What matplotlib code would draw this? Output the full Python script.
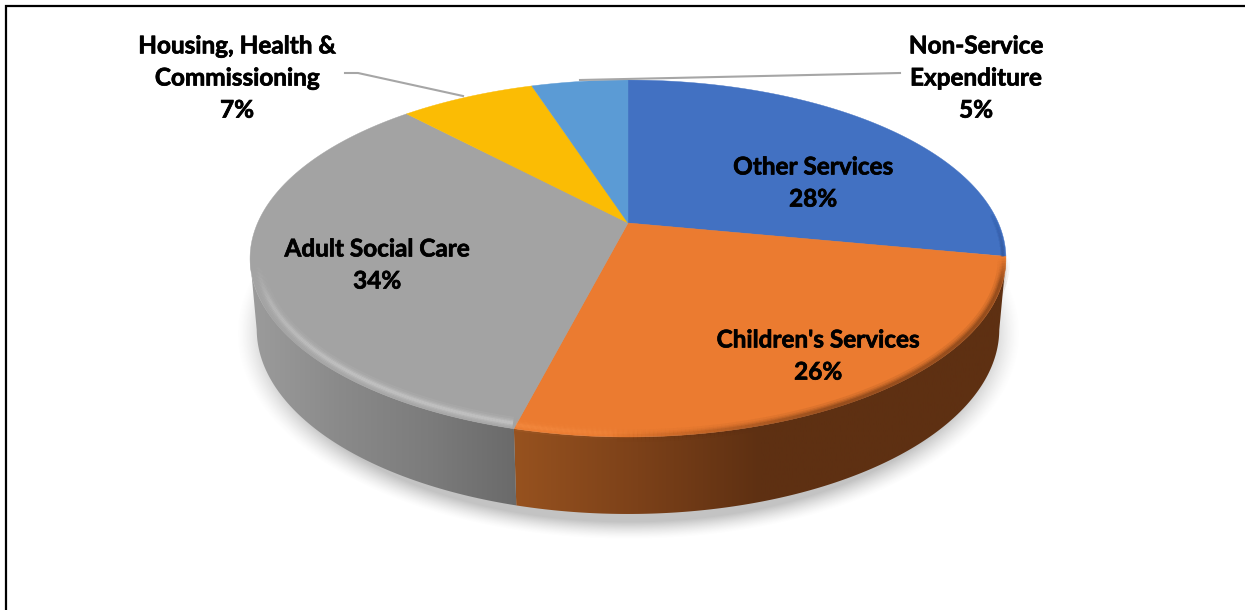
import numpy as np
import matplotlib
matplotlib.use("Agg")
from matplotlib import pyplot as plt
from matplotlib import patheffects
from matplotlib.collections import LineCollection
from matplotlib.colors import LinearSegmentedColormap, to_rgba
from matplotlib.patches import Polygon

categories = ["Other Services", "Children's Services", "Adult Social Care",
              "Housing, Health &\nCommissioning", "Non-Service\nExpenditure"]
values = [28, 26, 34, 7, 5]
colors = ["#4271c2", "#eb7b30", "#a3a3a3", "#fbbc04", "#5b9bd5"]
label_centers = [(813, 183), (818, 356), (377, 265), (237, 78), (976, 78)]

CX, CY = 628, 223
RADIUS = 370.4
TILT_Y = 171.4
PERSP = 0.199
THICK = 70


def project(deg, scale=1.0, ys=1.0, drop=0):
    # tilted disc, near edge bigger than far edge
    t = np.radians(deg)
    d = 1 + PERSP * np.sin(t) * scale
    x = CX + scale * RADIUS * np.cos(t) / d
    y = CY + drop - ys * scale * TILT_Y * np.sin(t) / d
    return x, y


def side_face(ax, t0, t1, stops):
    # side wall between two angles, shaded left to right
    t = np.linspace(t0, t1, 150)
    xt, yt = project(t)
    xb, yb = project(t[::-1], scale=0.983, ys=1.055, drop=THICK)
    pts = np.column_stack([np.r_[xt, xb], np.r_[yt, yb]])
    poly = Polygon(pts, fc="none", ec="none", zorder=2)
    ax.add_patch(poly)
    cmap = LinearSegmentedColormap.from_list("side", stops)
    grad = np.linspace(0, 1, 256)[None, :]
    im = ax.imshow(grad, cmap=cmap, extent=(pts[:, 0].min(), pts[:, 0].max(), 610, 0),
                   aspect="auto", zorder=2)
    im.set_clip_path(poly)


def rim_glow(ax, t0, t1, color, scale, fade, bands):
    # soft band along the edge of the top face
    t = np.linspace(t0, t1, 160)
    x, y = project(t, scale=scale)
    pts = np.column_stack([x, y])
    segs = np.stack([pts[:-1], pts[1:]], axis=1)
    w = fade(t[:-1])
    for lw, a in bands:
        rgba = np.tile(to_rgba(color), (len(segs), 1))
        rgba[:, 3] = np.clip(w * a, 0, 1)
        ax.add_collection(LineCollection(segs, colors=rgba, linewidths=lw,
                                         capstyle="butt", zorder=4))


fig = plt.figure(figsize=(12.45, 6.10), dpi=100)
ax = fig.add_axes([0, 0, 1, 1])
ax.set_xlim(0, 1245)
ax.set_ylim(610, 0)
ax.axis("off")

# soft shadow under the disc
yy, xx = np.mgrid[0:610, 0:1245]
f = np.sqrt(((xx - 628) / 392.0) ** 2 + ((yy - 333) / 206.0) ** 2)
shadow = np.zeros((610, 1245, 4))
shadow[..., :3] = 0.45
shadow[..., 3] = np.clip((1 - f) / 0.085, 0, 1) ** 1.4 * 0.42
ax.imshow(shadow, extent=(0, 1245, 610, 0), aspect="auto", zorder=1)

# slice boundaries, clockwise from twelve o'clock
edges = 90 - np.cumsum([0] + values) * 3.6
right = -np.degrees(np.arcsin(PERSP))
left = -180 - right

side_face(ax, right, edges[2], ["#97521f", "#7c4119", "#5e3012", "#5e3012", "#5e3012"])
side_face(ax, edges[2], left, ["#9c9c9c", "#8a8a8a", "#7c7c7c", "#6a6a6a"])

for i, c in enumerate(colors):
    t = np.linspace(edges[i], edges[i + 1], 120)
    x, y = project(t)
    ax.add_patch(Polygon(np.column_stack([np.r_[CX, x], np.r_[CY, y]]),
                         fc=c, ec=c, lw=0.3, zorder=3))

# bevel: light on the grey, darkening on the orange
soft = [(9, 0.07), (6, 0.1), (4, 0.14), (2.2, 0.2)]
rim_glow(ax, edges[2] - 0.5, left, "#e8e8e8", 0.98,
         lambda t: np.clip((t - left) / 14, 0, 1) * np.clip(-np.sin(np.radians(t)) * 1.2 + 0.1, 0.3, 1),
         soft)
rim_glow(ax, edges[2], edges[2] + 25, "#ff9a50", 0.985,
         lambda t: np.clip((edges[2] + 25 - t) / 25, 0, 1), soft)
rim_glow(ax, edges[2] + 12, right, "#5e3012", 0.995,
         lambda t: np.clip((t - edges[2] - 12) / 30, 0, 1) * np.clip((right - t) / 8, 0, 1) * 1.5,
         soft)
rim_glow(ax, right + 0.5, edges[1] + 14, "#2f4f8f", 0.992,
         lambda t: np.clip((edges[1] + 14 - t) / 14, 0, 1), [(3, 0.3), (1.5, 0.4)])

# leader lines for the two outside labels
ax.plot([345, 358, 463], [73, 73, 96], color="#a6a6a6", lw=1.5, zorder=5)
ax.plot([580, 900], [80, 73], color="#a6a6a6", lw=1.5, zorder=5)

heavier = [patheffects.withStroke(linewidth=0.5, foreground="black")]
for name, v, (lx, ly) in zip(categories, values, label_centers):
    ax.text(lx, ly, f"{name}\n{v}%", ha="center", va="center", ma="center",
            family="Lato", fontweight="bold", fontsize=17.5, color="black",
            linespacing=1.48, zorder=6, path_effects=heavier)

# frame, only left and top are in view
ax.plot([6, 6, 1245], [610, 6, 6], color="black", lw=1.6, zorder=7,
        solid_joinstyle="miter")

fig.savefig("out.png", dpi=100)
